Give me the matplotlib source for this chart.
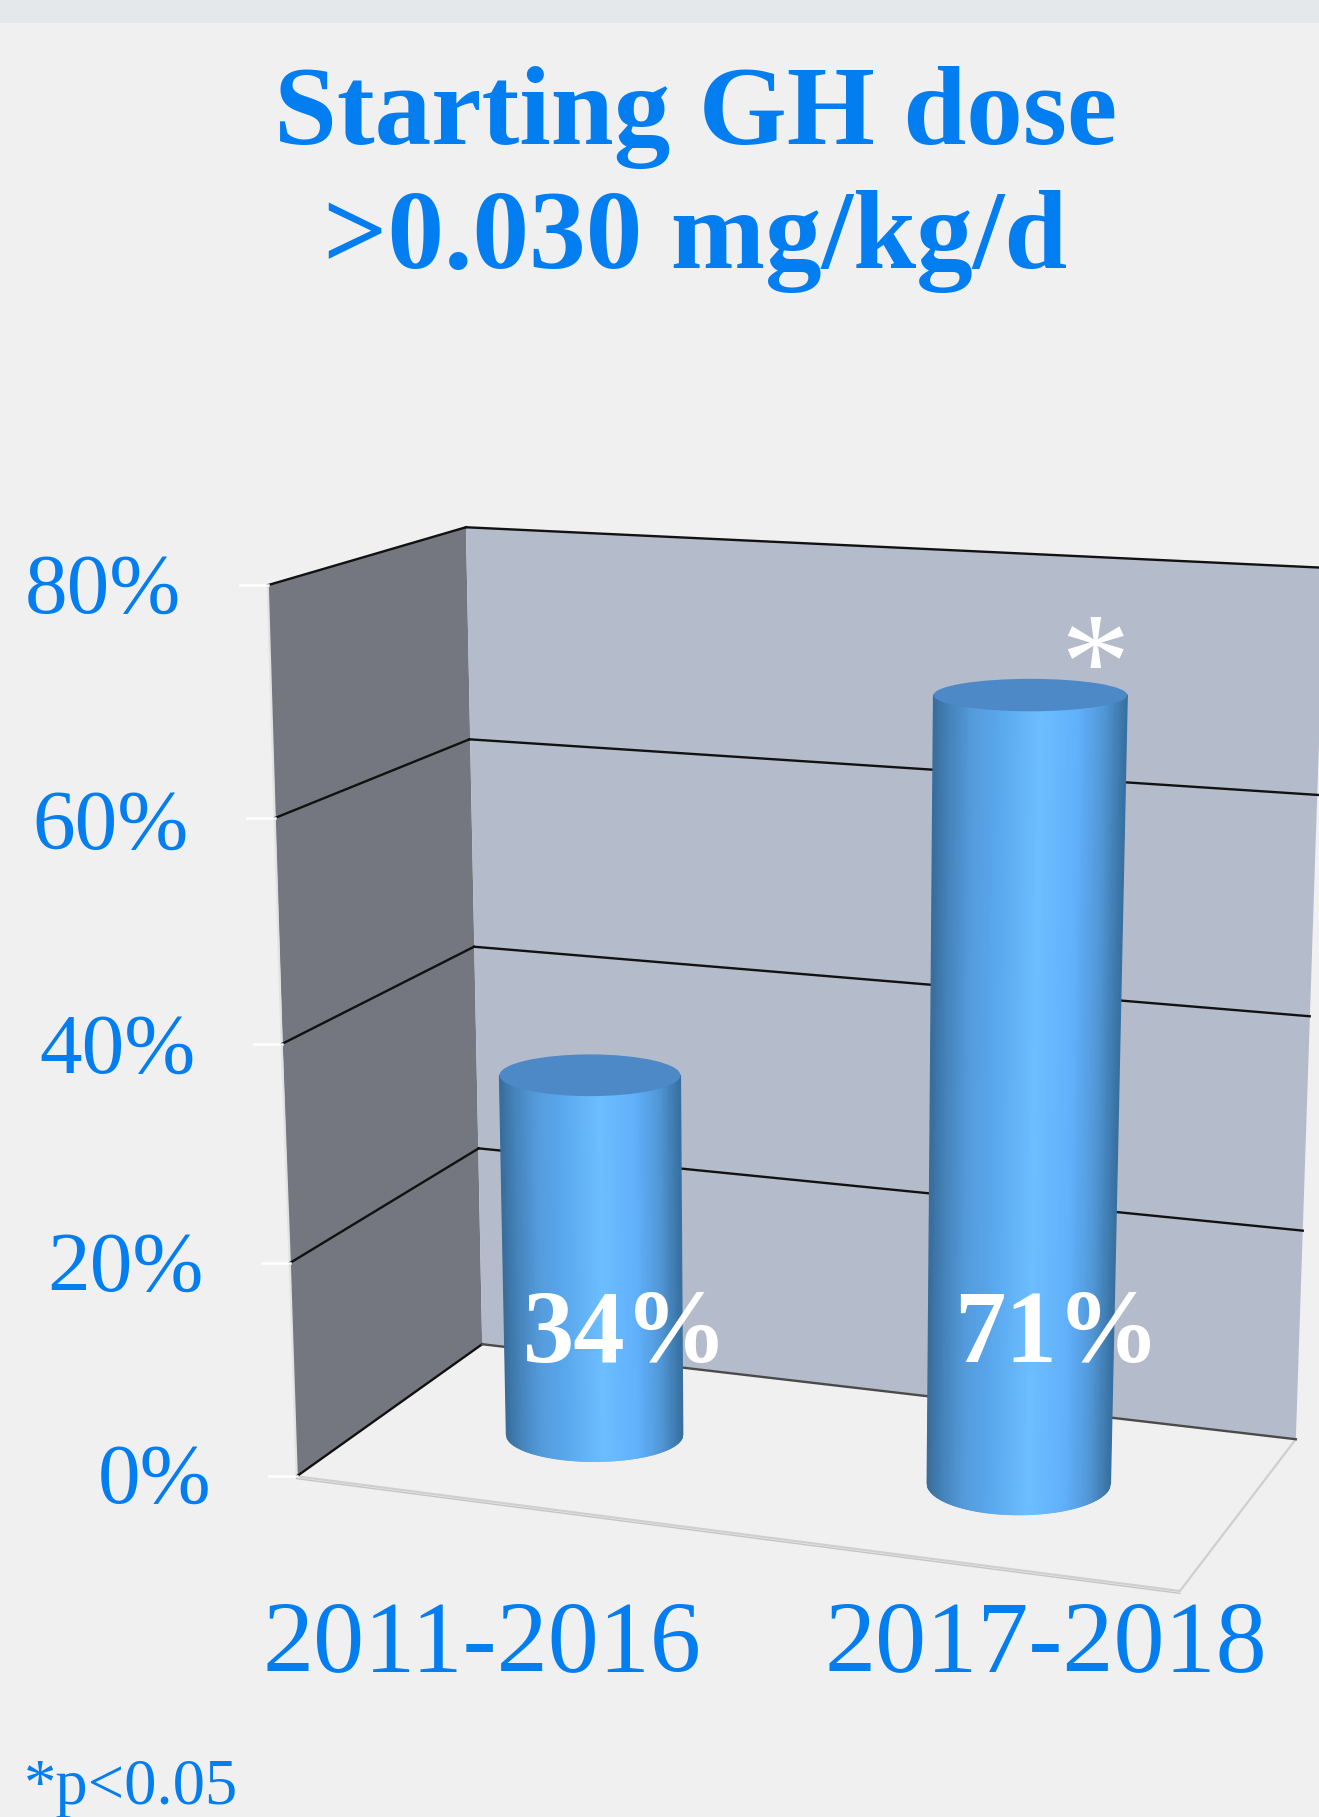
import numpy as np
import matplotlib
matplotlib.use("Agg")
import matplotlib.pyplot as plt
from matplotlib.collections import PolyCollection
from matplotlib.colors import LinearSegmentedColormap
from matplotlib.patches import Ellipse, Polygon

# dados do grafico
periodos = ['2011-2016', '2017-2018']
percentuais = [34, 71]
rotulos_barras = ['34%', '71%']
ticks = [0, 20, 40, 60, 80]
tick_labels = ['0%', '20%', '40%', '60%', '80%']

# perspectiva das paredes, y de cada tick
y_frente = [1274, 1090, 901, 706, 505]
y_fundo = [1160, 991, 817, 638, 455]
y_direita = [1242, 1062, 877, 686, 490]
x_frente = [256, 250, 243, 237, 231]
x_fundo = [416, 413, 409, 405, 402]
x_direita = [1118, 1124, 1130, 1137, 1143]

# cilindros: centro da base, pixels por ponto percentual, inclinacao
base_x = [513, 879]
base_y = [1238, 1280]
escala = [9.12, 9.58]
topo_dx = [-4, 10]
meia_base = [76, 79]
meia_topo = [78, 83.5]
elipse_base = [23, 27]
elipse_topo = [18, 14]

AZUL = '#037ef0'
FUNDO = '#f0f0f0'
SERIF = 'Liberation Serif'

degrade = LinearSegmentedColormap.from_list('cilindro', [
    (0.0, '#386d9c'), (0.08, '#4583ba'), (0.2, '#549bdc'), (0.35, '#5aa8ee'),
    (0.55, '#6cbeff'), (0.75, '#60b0fb'), (0.88, '#5298d8'), (1.0, '#37709f')])

fig = plt.figure(figsize=(13.19, 18.17), dpi=100, facecolor=FUNDO)
ax = fig.add_axes([0, 0, 1, 1])
ax.set_xlim(0, 1138)
ax.set_ylim(1568, 0)
ax.axis('off')

# faixa clara no topo
ax.fill_between([0, 1138], 0, 20, color='#e4e8ea', lw=0)

# paredes
ax.add_patch(Polygon([(x_frente[-1], y_frente[-1]), (x_fundo[-1], y_fundo[-1]),
                      (x_fundo[0], y_fundo[0]), (x_frente[0], y_frente[0])],
                     fc='#74777f', ec='none'))
ax.add_patch(Polygon([(x_fundo[-1], y_fundo[-1]), (x_direita[-1], y_direita[-1]),
                      (x_direita[0], y_direita[0]), (x_fundo[0], y_fundo[0])],
                     fc='#b4bbca', ec='none'))

# chao, contorno claro
canto = (1018, 1373)
ax.plot([x_frente[0], canto[0], x_direita[0]], [y_frente[0], canto[1], y_direita[0]],
        color='#cfcfcf', lw=1.6, solid_joinstyle='miter')
ax.plot([x_frente[0], canto[0]], [y_frente[0] + 2, canto[1] + 2], color='#c4c4c4', lw=1)
ax.plot(x_frente, y_frente, color='#e2e2e2', lw=1.6)

# linhas de grade
for i, t in enumerate(ticks):
    cor = '#111111' if t > 0 else '#4a4a4a'
    ax.plot([x_frente[i], x_fundo[i]], [y_frente[i], y_fundo[i]], color='#111111', lw=1.7)
    ax.plot([x_fundo[i], x_direita[i]], [y_fundo[i], y_direita[i]], color=cor, lw=1.7)
    ax.plot([x_frente[i] - 24, x_frente[i]], [y_frente[i], y_frente[i]], color='white', lw=1.8)


# desenha um cilindro a partir do valor
def cilindro(i, valor):
    u = np.linspace(-1, 1, 161)
    arco_base = np.sqrt(1 - u ** 2)
    xb = base_x[i] + meia_base[i] * u
    yb = base_y[i] + elipse_base[i] * arco_base
    topo_y = base_y[i] - valor * escala[i]
    topo_x = base_x[i] + topo_dx[i]
    xt = topo_x + meia_topo[i] * u
    yt = topo_y + elipse_topo[i] * arco_base
    faixas = [[(xt[k], yt[k]), (xt[k + 1], yt[k + 1]), (xb[k + 1], yb[k + 1]), (xb[k], yb[k])]
              for k in range(len(u) - 1)]
    cores = degrade((u[:-1] + 1) / 2)
    ax.add_collection(PolyCollection(faixas, facecolors=cores, edgecolors=cores, linewidths=1.0, zorder=3))
    ax.add_patch(Ellipse((topo_x, topo_y), 2 * meia_topo[i], 2 * elipse_topo[i],
                         fc='#4c89c6', ec='none', zorder=4))


for i, v in enumerate(percentuais):
    cilindro(i, v)

# textos
ax.text(600, 124, 'Starting GH dose', color=AZUL, family=SERIF, weight='bold', fontsize=81.5, ha='center', va='baseline')
ax.text(600, 231, '>0.030 mg/kg/d', color=AZUL, family=SERIF, weight='bold', fontsize=81.5, ha='center', va='baseline')

x_tick_dir = [182, 176, 169, 163, 156]
y_tick_base = [1297, 1114, 926, 732, 529]
for i, rotulo in enumerate(tick_labels):
    ax.text(x_tick_dir[i], y_tick_base[i], rotulo, color=AZUL, family=SERIF, fontsize=61.5, ha='right', va='baseline')

x_periodos = [416, 902]
for x, p in zip(x_periodos, periodos):
    ax.text(x, 1442, p, color=AZUL, family=SERIF, fontsize=73.5, ha='center', va='baseline')

x_rotulos = [540, 912]
for x, r in zip(x_rotulos, rotulos_barras):
    ax.text(x, 1175, r, color='white', family=SERIF, weight='bold', fontsize=74, ha='center', va='baseline', zorder=5)

ax.text(945, 611, '*', color='white', family=SERIF, fontsize=100, ha='center', va='baseline', zorder=5)
ax.text(21, 1557, '*p<0.05', color=AZUL, family=SERIF, fontsize=46.5, ha='left', va='baseline')

fig.savefig('out.png', dpi=100, facecolor=FUNDO)
